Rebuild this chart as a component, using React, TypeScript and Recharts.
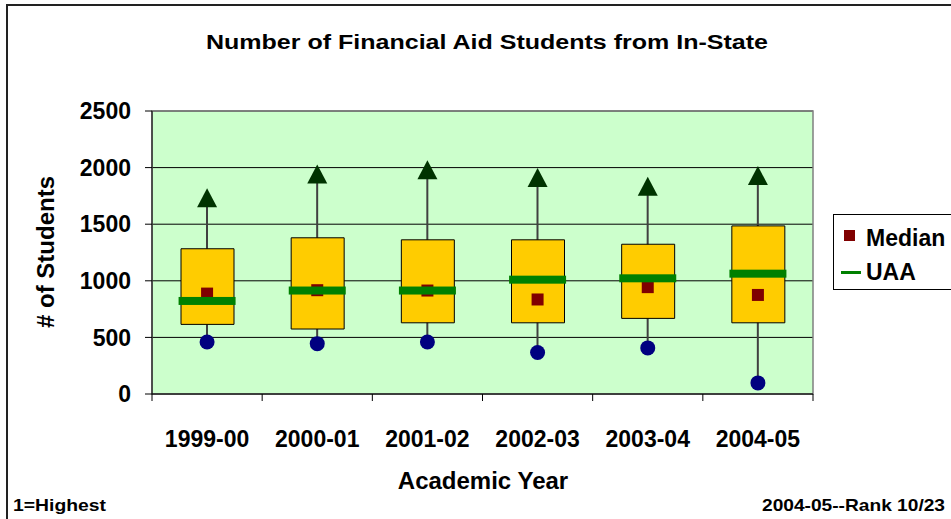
import React from "react";
import { ComposedChart, Bar, Scatter, XAxis, YAxis, CartesianGrid, ReferenceArea } from "recharts";

const years = ["1999-00", "2000-01", "2001-02", "2002-03", "2003-04", "2004-05"];
const maxVals = [1729, 1940, 1977, 1909, 1830, 1925];
const q3Vals = [1283, 1380, 1362, 1362, 1323, 1485];
const q1Vals = [615, 574, 629, 629, 668, 629];
const minVals = [459, 445, 459, 366, 407, 98];
const medianVals = [887, 917, 914, 835, 944, 875];
const uaaVals = [822, 914, 914, 1010, 1022, 1063];
const yTicks = [0, 500, 1000, 1500, 2000, 2500];

const data = years.map((year, i) => ({
  year,
  max: maxVals[i],
  q3: q3Vals[i],
  q1: q1Vals[i],
  min: minVals[i],
  median: medianVals[i],
  uaa: uaaVals[i],
}));

const FONT = '"Liberation Sans", Arial, sans-serif';

const XTick = (props: any) => {
  const { x, y, payload } = props;
  const off = payload.offset ?? 55;
  const last = payload.value === years[years.length - 1];
  return (
    <g>
      <line x1={x - off} x2={x - off} y1={y} y2={y + 7} stroke="#000" />
      {last && <line x1={x + off} x2={x + off} y1={y} y2={y + 7} stroke="#000" />}
      <text x={x} y={y + 53} textAnchor="middle" fontSize={23} fontWeight="bold" fill="#000" fontFamily={FONT}>
        {payload.value}
      </text>
    </g>
  );
};

const Triangle = ({ cx, cy }: any) => (
  <polygon points={`${cx},${cy - 10} ${cx + 10},${cy + 9} ${cx - 10},${cy + 9}`} fill="#003300" />
);
const Dot = ({ cx, cy }: any) => <circle cx={cx} cy={cy} r={7.5} fill="#000080" />;
const Square = ({ cx, cy }: any) => <rect x={cx - 6} y={cy - 6} width={12} height={12} fill="#800000" />;
const UaaBar = ({ cx, cy }: any) => <rect x={cx - 28.5} y={cy - 4} width={57} height={8} fill="#008000" />;

export default function App() {
  return (
    <div style={{ position: "absolute", left: 0, top: 0, width: 951, height: 519, overflow: "hidden", background: "#fff", fontFamily: FONT }}>
      <div style={{ position: "absolute", left: 0, top: 0 }}>
        <ComposedChart width={951} height={519} data={data} margin={{ top: 111, right: 138, bottom: 0, left: 0 }}>
          <CartesianGrid vertical={false} stroke="#000" fill="#CCFFCC" />
          <ReferenceArea y1={0} y2={2500} xAxisId="main" fill="none" stroke="#808080" strokeWidth={1.5} />
          <XAxis
            xAxisId="main"
            dataKey="year"
            height={125}
            stroke="#000"
            tickLine={false}
            tickSize={0}
            tickMargin={0}
            tick={<XTick />}
            interval={0}
          />
          <XAxis xAxisId="w" dataKey="year" hide />
          <YAxis
            width={152}
            domain={[0, 2500]}
            ticks={yTicks}
            interval={0}
            stroke="#000"
            tickSize={7}
            tickMargin={14}
            tick={{ fontSize: 23, fontWeight: "bold", fill: "#000", fontFamily: FONT }}
          />
          <Bar xAxisId="w" dataKey={(d: any) => [d.min, d.max]} barSize={2} fill="#404040" isAnimationActive={false} />
          <Bar xAxisId="main" dataKey={(d: any) => [d.q1, d.q3]} barSize={53} fill="#FFCC00" stroke="#000" strokeWidth={1} isAnimationActive={false} />
          <Scatter xAxisId="main" dataKey="median" shape={<Square />} isAnimationActive={false} />
          <Scatter xAxisId="main" dataKey="uaa" shape={<UaaBar />} isAnimationActive={false} />
          <Scatter xAxisId="main" dataKey="max" shape={<Triangle />} isAnimationActive={false} />
          <Scatter xAxisId="main" dataKey="min" shape={<Dot />} isAnimationActive={false} />
        </ComposedChart>
      </div>
      <svg width={951} height={519} style={{ position: "absolute", left: 0, top: 0, pointerEvents: "none" }} fontFamily={FONT} fontWeight="bold">
        <line x1={7} x2={7} y1={4} y2={519} stroke="#222" strokeWidth={2} />
        <line x1={6} x2={951} y1={5} y2={5} stroke="#222" strokeWidth={2} />
        <text x={487} y={49} textAnchor="middle" fontSize={20} textLength={562} lengthAdjust="spacingAndGlyphs">
          Number of Financial Aid Students from In-State
        </text>
        <text x={0} y={0} transform="translate(54,252) rotate(-90)" textAnchor="middle" fontSize={24}>
          # of Students
        </text>
        <text x={483} y={489} textAnchor="middle" fontSize={24}>
          Academic Year
        </text>
        <text x={13} y={511} fontSize={17} textLength={93} lengthAdjust="spacingAndGlyphs">
          1=Highest
        </text>
        <text x={945} y={511} textAnchor="end" fontSize={17} textLength={183} lengthAdjust="spacingAndGlyphs">
          2004-05--Rank 10/23
        </text>
      </svg>
      <div style={{ position: "absolute", left: 833, top: 214, width: 150, height: 74, border: "1px solid #000", background: "#fff", fontSize: 23, fontWeight: "bold" }}>
        <div style={{ position: "absolute", left: 10, top: 15, width: 11, height: 11, background: "#800000" }} />
        <div style={{ position: "absolute", left: 32, top: 10, lineHeight: "26px" }}>Median</div>
        <div style={{ position: "absolute", left: 7, top: 56, width: 20, height: 3, background: "#008000" }} />
        <div style={{ position: "absolute", left: 32, top: 44, lineHeight: "26px" }}>UAA</div>
      </div>
    </div>
  );
}
